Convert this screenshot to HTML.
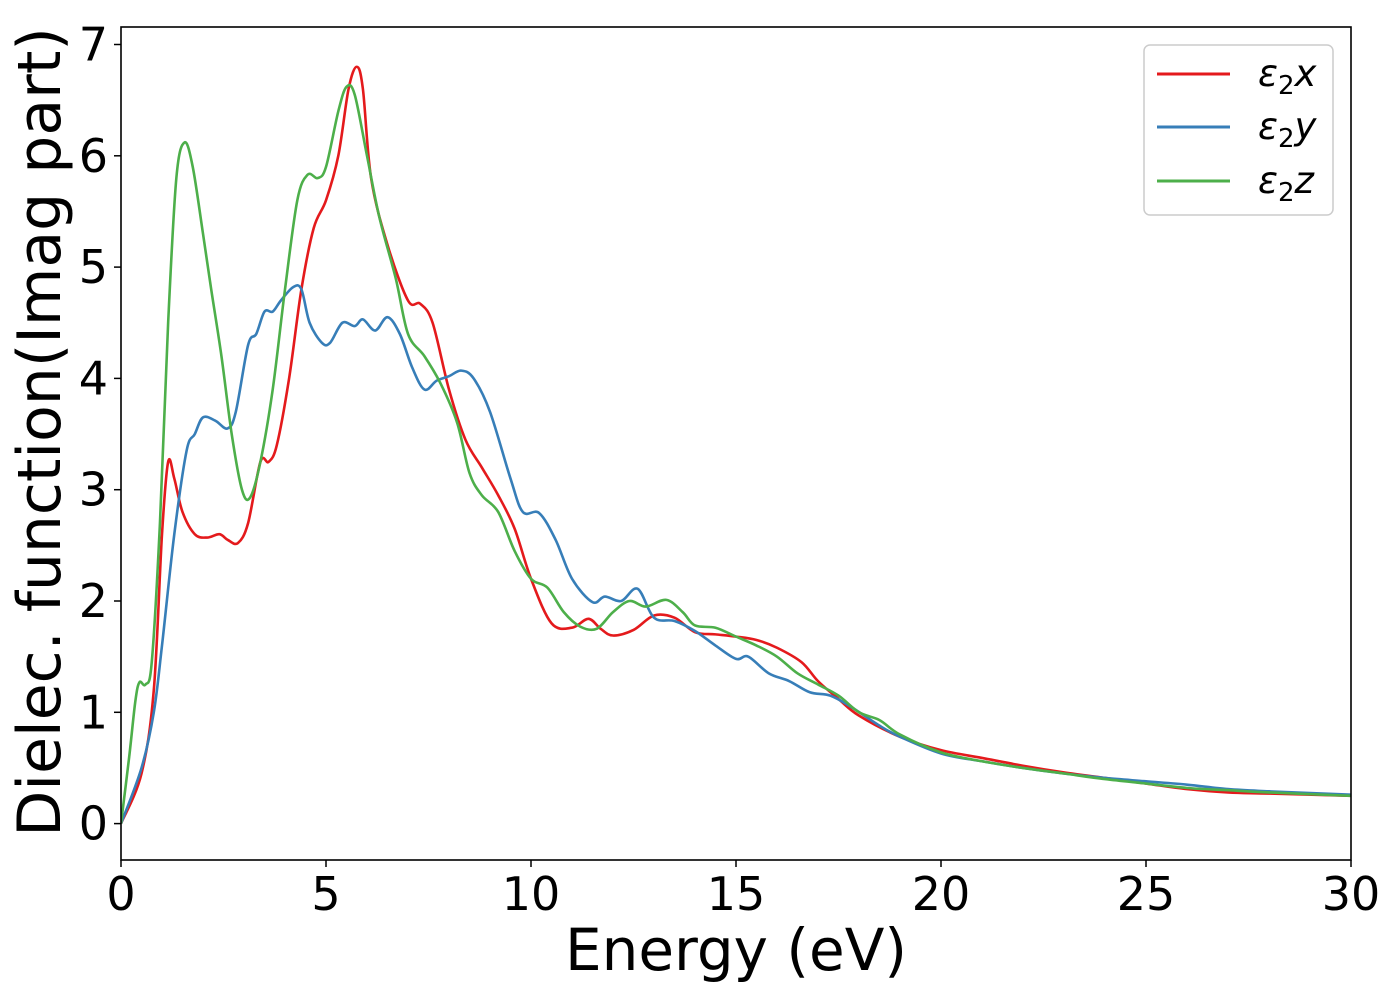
<!DOCTYPE html>
<html><head><meta charset="utf-8"><style>
body{margin:0;background:#fff;}
svg{display:block;font-family:"DejaVu Sans","Liberation Sans",sans-serif;}
</style></head><body>
<svg id="chart" width="1400" height="1000" viewBox="0 0 1400 1000">
<g id="grid"></g>
<g id="series" clip-path="url(#clip)"></g>
<defs><clipPath id="clip"><rect x="121" y="27" width="1230" height="833"/></clipPath></defs>
<rect x="121" y="27" width="1230" height="833" fill="none" stroke="#000" stroke-width="1.6"/>
<g id="ticks"></g>
<text x="736" y="970" font-size="58" text-anchor="middle">Energy (eV)</text>
<text transform="translate(60,432) rotate(-90)" font-size="60" text-anchor="middle">Dielec. function(Imag part)</text>
<g>
<rect x="1144" y="45" width="189" height="170" rx="6" fill="#fff" fill-opacity="0.8" stroke="#ccc" stroke-width="1.5"/>
<g><line x1="1157" y1="74" x2="1230" y2="74" stroke="#e41a1c" stroke-width="3"/><text x="1258" y="86" font-size="37" font-style="italic">ε<tspan font-style="normal" font-size="26" dy="8">2</tspan><tspan dy="-8">x</tspan></text></g>
<g><line x1="1157" y1="127" x2="1230" y2="127" stroke="#377eb8" stroke-width="3"/><text x="1258" y="139" font-size="37" font-style="italic">ε<tspan font-style="normal" font-size="26" dy="8">2</tspan><tspan dy="-8">y</tspan></text></g>
<g><line x1="1157" y1="181" x2="1230" y2="181" stroke="#4daf4a" stroke-width="3"/><text x="1258" y="193" font-size="37" font-style="italic">ε<tspan font-style="normal" font-size="26" dy="8">2</tspan><tspan dy="-8">z</tspan></text></g>
</g>
</svg>
<script>
const xTicks=[0,5,10,15,20,25,30];
const yTicks=[0,1,2,3,4,5,6,7];
const exE=[0,0.5,0.8,1.0,1.15,1.3,1.5,1.8,2.1,2.4,2.6,2.85,3.1,3.4,3.6,3.8,4.1,4.4,4.7,5.0,5.3,5.55,5.75,5.9,6.1,6.5,7.0,7.3,7.6,8.0,8.4,8.8,9.2,9.6,10.0,10.5,11.0,11.4,11.7,12.0,12.5,13.0,13.5,14.0,14.5,15.0,15.5,16.0,16.6,17.0,17.5,18.0,19,20,21,22,23,24,25,26,27,28,30];
const exV=[0,0.45,1.2,2.6,3.25,3.1,2.8,2.6,2.57,2.6,2.55,2.52,2.7,3.25,3.25,3.4,4.0,4.8,5.35,5.6,6.0,6.6,6.8,6.6,5.8,5.2,4.7,4.67,4.5,3.9,3.45,3.2,2.95,2.65,2.2,1.8,1.76,1.84,1.75,1.69,1.74,1.87,1.85,1.72,1.7,1.68,1.65,1.58,1.45,1.28,1.12,0.97,0.78,0.66,0.59,0.52,0.46,0.41,0.36,0.31,0.28,0.27,0.25];
const eyE=[0,0.5,0.8,1.0,1.3,1.6,1.8,2.0,2.3,2.6,2.8,3.1,3.3,3.5,3.7,3.9,4.2,4.4,4.6,4.9,5.1,5.4,5.7,5.9,6.2,6.5,6.8,7.1,7.4,7.7,8.0,8.3,8.6,9.0,9.5,9.8,10.2,10.6,11.0,11.5,11.8,12.2,12.6,13.0,13.5,14.0,14.5,15.0,15.3,15.8,16.3,16.8,17.3,17.8,18.5,19,20,21,22,23,24,25,26,27,28,30];
const eyV=[0,0.5,1.0,1.6,2.6,3.35,3.5,3.65,3.62,3.55,3.7,4.3,4.4,4.6,4.6,4.7,4.82,4.8,4.5,4.32,4.32,4.5,4.47,4.53,4.43,4.55,4.4,4.1,3.9,3.98,4.02,4.07,4.0,3.7,3.1,2.8,2.79,2.55,2.2,1.99,2.04,2.0,2.11,1.85,1.82,1.73,1.6,1.48,1.5,1.35,1.28,1.18,1.15,1.05,0.88,0.78,0.63,0.56,0.5,0.45,0.41,0.38,0.35,0.31,0.29,0.26];
const ezE=[0,0.2,0.35,0.45,0.6,0.75,0.95,1.15,1.35,1.55,1.75,2.0,2.2,2.45,2.7,2.95,3.15,3.4,3.7,4.0,4.3,4.55,4.8,5.0,5.3,5.5,5.7,6.0,6.3,6.7,7.0,7.4,7.8,8.2,8.5,8.8,9.2,9.6,10.0,10.4,10.8,11.2,11.6,12.0,12.4,12.8,13.3,13.7,14.0,14.5,15.0,15.5,16.0,16.5,17.0,17.5,18.0,18.5,19.0,20,21,22,23,24,25,26,27,28,30];
const ezV=[0,0.6,1.1,1.27,1.25,1.45,2.7,4.5,5.8,6.12,5.9,5.3,4.8,4.2,3.5,3.0,2.93,3.25,3.9,4.8,5.6,5.83,5.8,5.9,6.4,6.62,6.55,6.0,5.45,4.9,4.4,4.2,3.95,3.6,3.15,2.95,2.8,2.45,2.2,2.12,1.9,1.77,1.75,1.9,2.0,1.95,2.01,1.9,1.78,1.76,1.68,1.6,1.5,1.35,1.25,1.15,1.0,0.93,0.8,0.64,0.56,0.5,0.45,0.4,0.36,0.32,0.3,0.28,0.25];
const NS="http://www.w3.org/2000/svg";
function sx(v){return 121+v*41;}
function sy(v){return 823.6-v*111.3;}
const tk=document.getElementById('ticks');
xTicks.forEach(t=>{
 const l=document.createElementNS(NS,'line');
 l.setAttribute('x1',sx(t));l.setAttribute('x2',sx(t));l.setAttribute('y1',860);l.setAttribute('y2',867);l.setAttribute('stroke','#000');l.setAttribute('stroke-width','1.5');
 
 
 tk.appendChild(l);
 const s=document.createElementNS(NS,'text');
 s.setAttribute('x',sx(t));s.setAttribute('y',910);s.setAttribute('font-size','46');s.setAttribute('text-anchor','middle');s.textContent=t;
 
 
 tk.appendChild(s);
});
yTicks.forEach(t=>{
 const l=document.createElementNS(NS,'line');
 l.setAttribute('x1',114);l.setAttribute('x2',121);l.setAttribute('y1',sy(t));l.setAttribute('y2',sy(t));l.setAttribute('stroke','#000');l.setAttribute('stroke-width','1.5');
 
 
 tk.appendChild(l);
 const s=document.createElementNS(NS,'text');
 s.setAttribute('x',108);s.setAttribute('y',sy(t)+16);s.setAttribute('font-size','46');s.setAttribute('text-anchor','end');s.textContent=t;
 
 
 tk.appendChild(s);
});
function smoothPath(xs,ys){
 const p=xs.map((x,i)=>[sx(x),sy(ys[i])]);
 let d='M'+p[0][0]+','+p[0][1];
 for(let i=0;i<p.length-1;i++){
  const p0=p[i-1]||p[i],p1=p[i],p2=p[i+1],p3=p[i+2]||p2;
  const c1=[p1[0]+(p2[0]-p0[0])/6,p1[1]+(p2[1]-p0[1])/6];
  const c2=[p2[0]-(p3[0]-p1[0])/6,p2[1]-(p3[1]-p1[1])/6];
  d+=' C'+c1[0]+','+c1[1]+' '+c2[0]+','+c2[1]+' '+p2[0]+','+p2[1];
 }
 return d;
}
const sg=document.getElementById('series');
function addSeries(xs,ys,color,name){
 const p=document.createElementNS(NS,'path');
 p.setAttribute('d',smoothPath(xs,ys));p.setAttribute('fill','none');p.setAttribute('stroke',color);p.setAttribute('stroke-width','2.6');p.setAttribute('stroke-linejoin','round');
 
 
 sg.appendChild(p);
}
addSeries(exE,exV,'#e41a1c','series-eps2-x');
addSeries(eyE,eyV,'#377eb8','series-eps2-y');
addSeries(ezE,ezV,'#4daf4a','series-eps2-z');
</script>
</body></html>
